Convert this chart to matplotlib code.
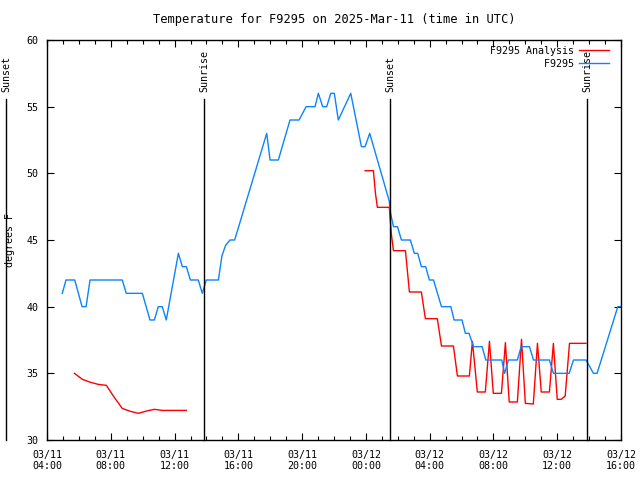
import numpy as np
import matplotlib.pyplot as plt
from matplotlib.ticker import MultipleLocator

# hours counted from 03/11 00:00 UTC
obs_hours = [4.96, 5.19, 5.74, 6.2, 6.45, 6.7, 8.72, 8.97, 9.98, 10.46, 10.73, 10.98,
             11.23, 11.48, 12.24, 12.49, 12.74, 12.99, 13.49, 13.74, 13.99, 14.75,
             14.97, 15.2, 15.48, 15.77, 17.78, 17.99, 18.51, 19.24, 19.81, 20.25,
             20.81, 21.02, 21.29, 21.54, 21.8, 22.02, 22.27, 23.05, 23.72, 23.95,
             24.24, 25.47, 25.53, 25.73, 25.98, 26.23, 26.79, 27.04, 27.25, 27.48,
             27.75, 27.98, 28.24, 28.74, 29.33, 29.53, 30.03, 30.24, 30.47, 30.75,
             31.29, 31.52, 32.52, 32.7, 32.94, 33.5, 33.74, 34.26, 34.51, 35.51,
             35.76, 36.75, 37.02, 37.81, 38.27, 38.5, 39.8, 40.0]
obs_temp = [41, 42, 42, 40, 40, 42, 42, 41, 41, 39, 39, 40,
            40, 39, 44, 43, 43, 42, 42, 41, 42, 42,
            43.8, 44.6, 45, 45, 53, 51, 51, 54, 54, 55,
            55, 56, 55, 55, 56, 56, 54, 56, 52, 52,
            53, 47.9, 47.1, 46, 46, 45, 45, 44, 44, 43,
            43, 42, 42, 40, 40, 39, 39, 38, 38, 37,
            37, 36, 36, 35, 36, 36, 37, 37, 36, 36,
            35, 35, 36, 36, 35, 35, 40, 40]

ana_hours = [5.72, 6.22, 6.72, 7.22, 7.72, 8.22, 8.72, 9.22, 9.73, 10.23, 10.73, 11.23, 12.74,
             np.nan,
             23.95, 24.47, 24.6, 24.72, 25.47, 25.6, 25.73, 26.48, 26.73, 27.48, 27.73,
             28.48, 28.74, 29.49, 29.74, 30.49, 30.68, 30.99, 31.49, 31.75, 31.99, 32.5,
             32.75, 32.99, 33.5, 33.76, 34.0, 34.5, 34.76, 35.0, 35.51, 35.76, 36.0,
             36.25, 36.5, 36.77, 37.8]
ana_temp = [35.0, 34.55, 34.33, 34.17, 34.1, 33.2, 32.37, 32.15, 32.0, 32.17, 32.3, 32.22, 32.22,
            np.nan,
            50.2, 50.2, 48.5, 47.45, 47.45, 45.4, 44.2, 44.2, 41.1, 41.1, 39.1,
            39.1, 37.05, 37.05, 34.8, 34.8, 37.4, 33.6, 33.6, 37.4, 33.5, 33.5,
            37.3, 32.85, 32.85, 37.55, 32.75, 32.7, 37.25, 33.6, 33.6, 37.25, 33.05,
            33.05, 33.3, 37.25, 37.25]

event_hours = [1.43, 13.85, 25.52, 37.88]
event_names = ['Sunset', 'Sunrise', 'Sunset', 'Sunrise']

tick_hours = [4, 8, 12, 16, 20, 24, 28, 32, 36, 40]
tick_labels = ['03/11\n04:00', '03/11\n08:00', '03/11\n12:00', '03/11\n16:00', '03/11\n20:00',
               '03/12\n00:00', '03/12\n04:00', '03/12\n08:00', '03/12\n12:00', '03/12\n16:00']

plt.rcParams['font.family'] = ['DejaVu Sans Mono', 'DejaVu Sans']
plt.rcParams['font.size'] = 7.2

fig = plt.figure(figsize=(6.4, 4.8), dpi=100)
ax = fig.add_axes([47/640, 40/480, 574/640, 400/480])

ax.plot(ana_hours, ana_temp, color='#ff0000', lw=1, label='F9295 Analysis')
ax.plot(obs_hours, obs_temp, color='#0a84ff', lw=1, label='         F9295')

for h, name in zip(event_hours, event_names):
    ax.plot([h, h], [30, 55.6], color='black', lw=1, clip_on=False)
    ax.text(h, 56.1, name, rotation=90, ha='center', va='bottom', clip_on=False)

ax.set_xlim(4, 40)
ax.set_ylim(30, 60)
ax.set_xticks(tick_hours)
ax.set_xticklabels(tick_labels)
ax.xaxis.set_minor_locator(MultipleLocator(1))
ax.set_yticks(np.arange(30, 61, 5))
ax.tick_params(which='both', direction='in', top=True, right=True, width=0.8)
ax.tick_params(which='major', length=5)
ax.tick_params(which='minor', length=3)
ax.tick_params(axis='x', pad=7)
ax.tick_params(axis='y', pad=6)
for s in ax.spines.values():
    s.set_linewidth(1)

ax.set_ylabel('degrees F')
ax.yaxis.set_label_coords(-0.055, 0.5)
ax.set_title('Temperature for F9295 on 2025-Mar-11 (time in UTC)', pad=12)

ax.legend(loc='upper right', bbox_to_anchor=((609 - 47) / 574, (440 - 46) / 400),
          frameon=False, markerfirst=False, handlelength=3.0, handletextpad=0.5,
          borderpad=0, borderaxespad=0, labelspacing=0.3)

fig.savefig('out.png', dpi=100)
